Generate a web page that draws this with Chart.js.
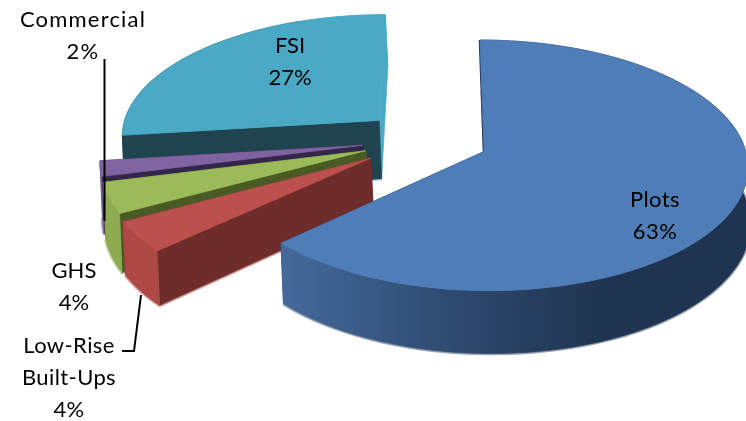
<!DOCTYPE html>
<html>
<head>
<meta charset="utf-8">
<title>Product mix</title>
<script src="https://cdn.jsdelivr.net/npm/chart.js@4"></script>
<style>
  html, body { margin: 0; padding: 0; background: #fff; }
  #wrap { position: relative; width: 746px; height: 421px; overflow: hidden; }
</style>
</head>
<body>
<div id="wrap"><canvas id="myChart" width="746" height="421"></canvas></div>
<script>
// clockwise from 12 o'clock
const categories = ["Plots", "Low-Rise Built-Ups", "GHS", "Commercial", "FSI"];
const shares = [63, 4, 4, 2, 27];
const labelLines = [["Plots", "63%"], ["Low-Rise", "Built-Ups", "4%"], ["GHS", "4%"], ["Commercial", "2%"], ["FSI", "27%"]];
const topColors = ["#4f7db8", "#bc504d", "#9bbb59", "#8064a2", "#4aaac5"];
const sideColors = ["#1f3450", "#6e2d2b", "#4a5a25", "#33264a", "#1f4450"];
const rimColors = ["#2f4c72", "#ad4845", "#8dab50", "#8064a2", "#1f4450"];
const fringeColors = ["#9aa5b4", "#d2a0a0", "#c4d4a4", "#c6b8d6", "#a5d6e2"];

const labelSpots = [[655, 207], [69, 353], [74, 278], [83, 27], [290, 53]];
const labelTracking = ["0.4px", "0.4px", "0.1px", "1.2px", "0px"];
const lineGap = 32;
const sliceOffsets = [64, 67, 64, 64, 64];
const sliceDepths = [56, 50, 56, 56, 60];

// perspective of the pie plane, fitted to the picture
const vanishX = 443;
const vanishY = -974.5;
const planeY = 1127;
const tilt = 0.00042;
const centerX = -17.7;
const centerY = -27.4;
const paintOrder = [4, 3, 2, 1, 0];

function project(px, py, depth) {
  const w = 1 - tilt * py;
  return {
    x: vanishX + px / w + (depth ? 2.5 : 0),
    y: vanishY + (planeY + depth) / w,
  };
}

function trace(ctx, points) {
  ctx.beginPath();
  points.forEach((p, i) => (i ? ctx.lineTo(p.x, p.y) : ctx.moveTo(p.x, p.y)));
}

function paintFace(ctx, points, fill) {
  trace(ctx, points);
  ctx.closePath();
  ctx.fillStyle = fill;
  ctx.fill();
  ctx.strokeStyle = fill;
  ctx.lineWidth = 0.7;
  ctx.stroke();
}

function rimPaint(ctx, i) {
  if (i === 0) {
    const shade = ctx.createLinearGradient(285, 0, 600, 0);
    shade.addColorStop(0, "#44699a");
    shade.addColorStop(0.5, "#2f4c72");
    shade.addColorStop(1, "#1f3450");
    return shade;
  }
  if (i === 4) {
    // only the left end of the FSI rim is in shadow
    const shade = ctx.createLinearGradient(300, 0, 301, 0);
    shade.addColorStop(0, rimColors[i]);
    shade.addColorStop(1, topColors[i]);
    return shade;
  }
  return rimColors[i];
}

function paintSlice(ctx, arc, i) {
  const { startAngle, endAngle, outerRadius, options } = arc;
  const mid = (startAngle + endAngle) / 2;
  const ax = centerX + Math.cos(mid) * options.offset;
  const ay = centerY + Math.sin(mid) * options.offset;
  const depth = sliceDepths[i];
  const rimTop = [];
  const rimLow = [];
  const steps = Math.ceil((endAngle - startAngle) * 30);
  for (let s = 0; s <= steps; s++) {
    const a = startAngle + ((endAngle - startAngle) * s) / steps;
    const px = ax + Math.cos(a) * outerRadius;
    const py = ay + Math.sin(a) * outerRadius;
    rimTop.push(project(px, py, 0));
    rimLow.push(project(px, py, depth));
  }
  const apexTop = project(ax, ay, 0);
  const apexLow = project(ax, ay, depth);
  const last = rimTop.length - 1;

  // soft pale edge under the slab
  trace(ctx, [apexLow].concat(rimLow));
  ctx.lineJoin = "round";
  ctx.strokeStyle = fringeColors[i];
  ctx.lineWidth = 3.5;
  ctx.stroke();

  // FSI's back cut reads as the same teal as its top
  paintFace(ctx, [apexTop, rimTop[last], rimLow[last], apexLow], i === 4 ? topColors[i] : sideColors[i]);
  paintFace(ctx, [apexTop, rimTop[0], rimLow[0], apexLow], sideColors[i]);
  paintFace(ctx, rimTop.concat(rimLow.slice().reverse()), rimPaint(ctx, i));

  // thin dark sliver on the open cut of Plots
  if (i === 0) {
    trace(ctx, [rimTop[0], apexTop]);
    ctx.strokeStyle = sideColors[i];
    ctx.lineWidth = 2.5;
    ctx.stroke();
  }

  paintFace(ctx, [apexTop].concat(rimTop), topColors[i]);
}

const pie3d = {
  id: "pie3d",
  beforeDatasetsDraw(chart) {
    const ctx = chart.ctx;
    const arcs = chart.getDatasetMeta(0).data;
    ctx.save();
    ctx.filter = "blur(0.5px)";
    paintOrder.forEach((i) => paintSlice(ctx, arcs[i], i));
    ctx.restore();
    return false;
  },
  afterDraw(chart) {
    const ctx = chart.ctx;
    ctx.save();
    // leader lines
    ctx.strokeStyle = "#000";
    ctx.lineWidth = 2;
    ctx.beginPath();
    ctx.moveTo(104.5, 59);
    ctx.lineTo(104.5, 221);
    ctx.moveTo(122, 351);
    ctx.lineTo(134, 351);
    ctx.lineTo(141, 295);
    ctx.stroke();
    // data labels
    ctx.fillStyle = "#000";
    ctx.font = "22px Lato";
    ctx.textAlign = "center";
    ctx.textBaseline = "alphabetic";
    labelLines.forEach((lines, i) => {
      ctx.letterSpacing = labelTracking[i];
      lines.forEach((text, l) => {
        ctx.fillText(text, labelSpots[i][0], labelSpots[i][1] + l * lineGap);
      });
    });
    ctx.restore();
  },
};

new Chart(document.getElementById("myChart"), {
  type: "pie",
  data: {
    labels: categories,
    datasets: [{ data: shares, backgroundColor: topColors, borderWidth: 0, offset: sliceOffsets }],
  },
  options: {
    responsive: false,
    animation: false,
    radius: 262,
    layout: { padding: 0 },
    plugins: {
      legend: { display: false },
      tooltip: { enabled: false },
    },
  },
  plugins: [pie3d],
});
</script>
</body>
</html>
